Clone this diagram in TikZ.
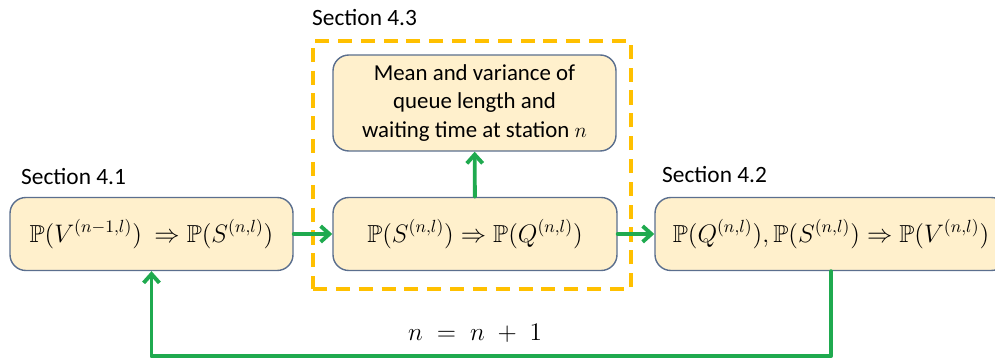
\documentclass[tikz,border=0pt]{standalone}
\usepackage{amssymb}
\usepackage{fontspec}
\setmainfont{Carlito}
\usetikzlibrary{arrows.meta}
\definecolor{boxfill}{HTML}{FFF0CC}
\definecolor{boxedge}{HTML}{5B6F8E}
\definecolor{flowgreen}{HTML}{1FAA4F}
\definecolor{secgold}{HTML}{FFC000}
\newcommand{\mathsz}{\fontsize{14}{16}\selectfont}
\tikzset{
  stepbox/.style={draw=boxedge,fill=boxfill,line width=.8pt,rounded corners=9pt,align=center,inner sep=2pt},
  flow/.style={draw=flowgreen,line width=2.2pt,-{Straight Barb[length=5pt,width=9pt,line width=2.2pt]}},
  seclabel/.style={anchor=west,font=\fontsize{13.3}{15}\selectfont}
}
\begin{document}
\begin{tikzpicture}[x=0.02cm,y=-0.02cm, font=\fontsize{13}{16.2}\selectfont, line cap=round, line join=round]
\useasboundingbox (0,0) rectangle (995,358);
% dashed frame around Section 4.3
\node[draw=secgold,line width=2.2pt,dash pattern=on 8pt off 5pt,line cap=butt,minimum width=318*0.02cm,minimum height=248*0.02cm,inner sep=0pt] (sec) at (472,165) {};
\node[seclabel] (lbsec) at (306,18) {Section 4.3};
\node[seclabel] (lbone) at (15,177) {Section 4.1};
\node[seclabel] (lbtwo) at (656,175) {Section 4.2};
% boxes
\node[stepbox,minimum width=283*0.02cm,minimum height=73*0.02cm] (vs) at (151.5,234) {\mathsz$\mathbb{P}(V^{(n-1,l)})\ \Rightarrow \mathbb{P}(S^{(n,l)})$};
\node[stepbox,minimum width=284*0.02cm,minimum height=73*0.02cm] (sq) at (475,234) {\mathsz$\mathbb{P}(S^{(n,l)}) \Rightarrow \mathbb{P}(Q^{(n,l)})$};
\node[stepbox,minimum width=283*0.02cm,minimum height=96*0.02cm] (mv) at (474.5,103) {Mean and variance of\\queue length and\\waiting time at station $n$};
\node[stepbox,minimum width=352*0.02cm,minimum height=73*0.02cm] (qv) at (831,234) {\mathsz$\mathbb{P}(Q^{(n,l)}), \mathbb{P}(S^{(n,l)}) \Rightarrow \mathbb{P}(V^{(n,l)})$};
% connectors
\draw[flow] (vs) -- (sq);
\draw[flow] (sq) -- (qv);
\draw[flow] (sq) -- (mv);
\draw[flow] (qv.south) -- ++(0,85) -| (vs.south);
\node (inc) at (475,333) {\mathsz$n\;=\;n\;+\;1$};
\end{tikzpicture}
\end{document}
